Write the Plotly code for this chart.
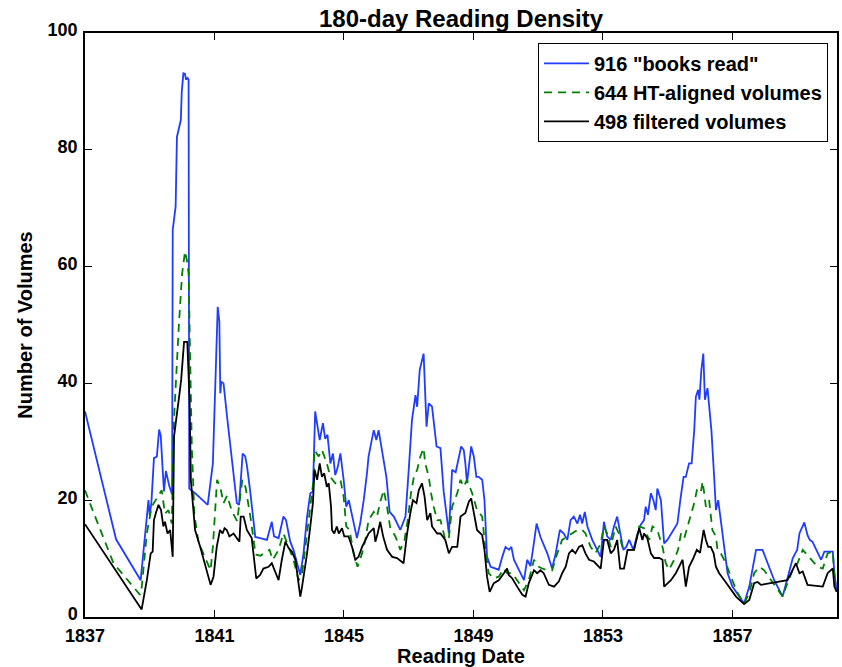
import plotly.graph_objects as go

# ---- data (decimal reading year, number of volumes in 180-day window) ----
books_x = [1837.00, 1837.96, 1838.72, 1838.96, 1839.00, 1839.05, 1839.13, 1839.22, 1839.29, 1839.34,
           1839.40, 1839.44, 1839.50, 1839.60, 1839.69, 1839.71, 1839.80, 1839.84, 1839.96, 1839.99,
           1840.04, 1840.09, 1840.12, 1840.17, 1840.20, 1840.22, 1840.40, 1840.79, 1840.95, 1841.02,
           1841.10, 1841.15, 1841.18, 1841.21, 1841.28, 1841.40, 1841.69, 1841.76, 1841.87, 1841.95,
           1842.00, 1842.10, 1842.26, 1842.41, 1842.62, 1842.77, 1842.84, 1842.98, 1843.13, 1843.21,
           1843.34, 1843.44, 1843.65, 1843.75, 1843.86, 1843.96, 1844.04, 1844.11, 1844.25, 1844.35,
           1844.42, 1844.49, 1844.58, 1844.66, 1844.73, 1844.80, 1844.89, 1844.99, 1845.07, 1845.15,
           1845.25, 1845.40, 1845.50, 1845.61, 1845.71, 1845.76, 1845.92, 1846.00, 1846.07, 1846.14,
           1846.23, 1846.31, 1846.41, 1846.54, 1846.74, 1846.90, 1847.00, 1847.10, 1847.21, 1847.26,
           1847.34, 1847.41, 1847.46, 1847.55, 1847.62, 1847.72, 1847.86, 1847.98, 1848.08, 1848.24,
           1848.34, 1848.45, 1848.55, 1848.62, 1848.70, 1848.75, 1848.80, 1848.93, 1849.01, 1849.09,
           1849.16, 1849.27, 1849.34, 1849.42, 1849.53, 1849.78, 1849.89, 1849.99, 1850.10, 1850.17,
           1850.25, 1850.45, 1850.56, 1850.66, 1850.76, 1850.85, 1850.95, 1851.07, 1851.28, 1851.43,
           1851.54, 1851.67, 1851.79, 1851.90, 1852.00, 1852.10, 1852.21, 1852.29, 1852.36, 1852.44,
           1852.52, 1852.67, 1852.82, 1852.93, 1853.03, 1853.13, 1853.24, 1853.34, 1853.44, 1853.53,
           1853.63, 1853.72, 1853.81, 1853.94, 1854.07, 1854.17, 1854.27, 1854.32, 1854.39, 1854.48,
           1854.56, 1854.63, 1854.68, 1854.79, 1854.89, 1854.99, 1855.20, 1855.30, 1855.39, 1855.49,
           1855.56, 1855.66, 1855.74, 1855.82, 1855.87, 1855.94, 1855.98, 1856.04, 1856.10, 1856.15,
           1856.23, 1856.28, 1856.35, 1856.44, 1856.49, 1856.56, 1856.64, 1856.75, 1856.85, 1857.00,
           1857.21, 1857.36, 1857.52, 1857.73, 1857.93, 1858.09, 1858.29, 1858.55, 1858.70, 1858.86,
           1858.94, 1859.00, 1859.07, 1859.22, 1859.32, 1859.39, 1859.47, 1859.74, 1859.84, 1860.10,
           1860.15, 1860.22]
books_y = [35.2, 13.3, 6.3, 20.0, 17.4, 19.5, 27.2, 27.5, 32.1, 31.0,
           25.2, 21.5, 25.0, 22.5, 21.0, 66.3, 70.3, 82.2, 85.1, 90.0,
           93.1, 93.0, 92.0, 92.3, 92.0, 22.0, 21.2, 19.2, 26.3, 40.0,
           53.1, 50.6, 38.3, 40.3, 40.0, 33.7, 19.5, 19.2, 28.0, 27.5,
           26.0, 21.7, 13.7, 13.5, 13.2, 16.3, 13.8, 13.5, 17.2, 16.6,
           12.9, 11.5, 7.2, 10.9, 17.2, 21.2, 21.5, 35.2, 30.3, 33.2,
           30.5, 31.2, 26.3, 28.0, 24.3, 25.5, 28.0, 23.5, 18.9, 20.0,
           17.2, 13.5, 16.0, 20.0, 24.6, 27.5, 32.0, 30.3, 32.0, 29.7,
           26.3, 24.0, 18.0, 17.2, 14.9, 17.2, 25.2, 33.7, 38.0, 36.0,
           42.3, 44.3, 45.1, 32.6, 36.6, 36.0, 29.2, 28.9, 21.5, 14.3,
           25.2, 24.8, 27.5, 29.2, 28.6, 26.3, 22.9, 29.2, 27.5, 24.0,
           24.0, 23.5, 20.0, 10.3, 8.6, 8.1, 10.3, 12.0, 11.5, 12.0,
           9.8, 7.5, 6.3, 9.8, 8.7, 12.0, 16.0, 13.7, 10.9, 8.3,
           10.9, 14.9, 14.3, 13.2, 16.6, 17.2, 16.0, 17.5, 16.0, 18.0,
           15.5, 13.2, 11.5, 10.3, 16.3, 13.8, 13.2, 15.5, 17.2, 14.3,
           11.5, 12.0, 13.2, 11.5, 14.3, 15.8, 16.6, 18.9, 17.5, 21.2,
           20.0, 18.3, 22.0, 20.0, 12.6, 13.2, 15.2, 16.0, 20.0, 24.0,
           24.0, 26.3, 26.3, 32.0, 37.7, 38.9, 37.2, 42.3, 45.1, 37.2,
           39.2, 36.3, 32.0, 23.5, 18.3, 20.0, 16.6, 12.6, 7.5, 5.2,
           3.5, 2.3, 5.2, 11.5, 11.5, 9.2, 6.3, 3.5, 6.9, 10.0,
           10.9, 11.5, 14.3, 16.2, 14.0, 13.2, 12.9, 9.8, 11.2, 11.2,
           7.5, 4.5]

ht_x = [1837.00, 1837.15, 1837.88, 1838.70, 1838.75, 1838.91, 1839.06, 1839.22, 1839.37, 1839.47,
        1839.58, 1839.68, 1839.75, 1839.90, 1840.00, 1840.09, 1840.15, 1840.20, 1840.26, 1840.30,
        1840.38, 1840.51, 1840.67, 1840.88, 1840.95, 1841.08, 1841.18, 1841.28, 1841.39, 1841.54,
        1841.70, 1841.86, 1841.96, 1842.12, 1842.27, 1842.42, 1842.52, 1842.70, 1842.80, 1842.98,
        1843.13, 1843.29, 1843.44, 1843.60, 1843.70, 1843.86, 1843.96, 1844.06, 1844.09, 1844.22,
        1844.32, 1844.47, 1844.58, 1844.73, 1844.89, 1844.99, 1845.07, 1845.17, 1845.30, 1845.42,
        1845.56, 1845.66, 1845.76, 1845.92, 1846.02, 1846.12, 1846.23, 1846.33, 1846.43, 1846.59,
        1846.74, 1846.87, 1846.97, 1847.07, 1847.16, 1847.26, 1847.36, 1847.46, 1847.51, 1847.62,
        1847.69, 1847.77, 1847.88, 1847.98, 1848.13, 1848.24, 1848.34, 1848.50, 1848.60, 1848.70,
        1848.80, 1848.96, 1849.11, 1849.27, 1849.37, 1849.47, 1849.63, 1849.78, 1849.94, 1850.04,
        1850.20, 1850.35, 1850.56, 1850.71, 1850.87, 1851.02, 1851.12, 1851.28, 1851.43, 1851.59,
        1851.74, 1851.90, 1852.05, 1852.21, 1852.36, 1852.46, 1852.62, 1852.77, 1852.93, 1853.03,
        1853.13, 1853.24, 1853.39, 1853.49, 1853.60, 1853.76, 1853.96, 1854.12, 1854.27, 1854.43,
        1854.53, 1854.68, 1854.84, 1854.94, 1855.04, 1855.20, 1855.32, 1855.41, 1855.51, 1855.61,
        1855.72, 1855.82, 1855.90, 1856.02, 1856.08, 1856.18, 1856.28, 1856.38, 1856.49, 1856.54,
        1856.64, 1856.80, 1856.95, 1857.16, 1857.36, 1857.52, 1857.67, 1857.83, 1857.98, 1858.19,
        1858.40, 1858.55, 1858.70, 1858.86, 1859.01, 1859.17, 1859.27, 1859.43, 1859.63, 1859.79,
        1859.94, 1860.10, 1860.15, 1860.22]
ht_y = [21.7, 19.5, 9.2, 3.8, 5.0, 14.3, 18.9, 20.3, 21.7, 17.7,
        18.3, 16.0, 34.0, 50.0, 58.8, 62.6, 61.0, 58.8, 41.2, 29.0,
        17.4, 12.7, 10.7, 8.0, 12.0, 23.5, 22.2, 19.5, 20.8, 18.1,
        16.4, 23.5, 22.2, 16.8, 10.7, 10.5, 10.9, 11.5, 9.8, 11.5,
        14.3, 12.0, 9.8, 6.3, 7.2, 14.3, 18.9, 23.5, 28.6, 27.5,
        28.6, 26.3, 24.0, 22.9, 23.5, 20.6, 15.5, 14.9, 10.9, 8.6,
        10.9, 13.2, 16.6, 18.0, 17.2, 19.7, 21.7, 18.9, 15.2, 13.8,
        11.5, 13.2, 16.6, 21.2, 24.0, 25.2, 27.5, 28.9, 26.3, 24.0,
        21.2, 18.9, 16.6, 16.6, 13.2, 13.5, 18.9, 21.2, 23.5, 22.3,
        23.5, 21.2, 18.3, 17.2, 11.5, 7.5, 6.6, 6.9, 8.3, 7.5,
        7.5, 6.3, 4.6, 6.3, 9.8, 8.6, 8.3, 8.0, 8.0, 10.9,
        13.2, 13.8, 14.3, 14.9, 14.9, 14.3, 12.0, 10.9, 12.6, 15.5,
        14.3, 12.0, 15.5, 14.3, 12.0, 11.5, 11.5, 15.5, 15.2, 13.2,
        15.5, 14.9, 12.0, 9.2, 8.1, 9.8, 11.5, 14.3, 13.5, 15.5,
        17.8, 19.5, 21.7, 21.2, 23.2, 18.9, 20.0, 14.9, 13.8, 11.5,
        10.9, 9.2, 6.9, 4.1, 2.3, 4.1, 7.5, 8.6, 8.0, 6.3,
        4.6, 3.5, 5.8, 8.0, 9.2, 11.5, 10.9, 9.8, 8.6, 8.3,
        10.9, 11.2, 7.0, 5.8]

filt_x = [1837.00, 1838.75, 1838.91, 1839.03, 1839.09, 1839.13, 1839.19, 1839.27, 1839.35, 1839.42,
          1839.47, 1839.55, 1839.63, 1839.71, 1839.75, 1839.84, 1839.92, 1839.97, 1840.06, 1840.16,
          1840.23, 1840.27, 1840.40, 1840.56, 1840.76, 1840.88, 1840.97, 1841.07, 1841.17, 1841.25,
          1841.31, 1841.38, 1841.46, 1841.59, 1841.69, 1841.77, 1841.81, 1841.90, 1842.00, 1842.15,
          1842.29, 1842.41, 1842.51, 1842.67, 1842.77, 1842.88, 1842.98, 1843.08, 1843.19, 1843.29,
          1843.39, 1843.50, 1843.65, 1843.70, 1843.86, 1843.96, 1844.04, 1844.09, 1844.17, 1844.25,
          1844.32, 1844.39, 1844.47, 1844.53, 1844.60, 1844.63, 1844.70, 1844.78, 1844.84, 1844.94,
          1845.01, 1845.14, 1845.25, 1845.35, 1845.45, 1845.56, 1845.66, 1845.76, 1845.92, 1845.97,
          1846.04, 1846.12, 1846.21, 1846.33, 1846.49, 1846.64, 1846.84, 1846.95, 1847.05, 1847.13,
          1847.24, 1847.31, 1847.41, 1847.49, 1847.57, 1847.67, 1847.72, 1847.88, 1847.98, 1848.13,
          1848.24, 1848.34, 1848.50, 1848.60, 1848.75, 1848.86, 1848.93, 1849.01, 1849.11, 1849.27,
          1849.34, 1849.42, 1849.50, 1849.63, 1849.78, 1849.94, 1850.04, 1850.09, 1850.20, 1850.35,
          1850.51, 1850.61, 1850.71, 1850.87, 1850.97, 1851.07, 1851.17, 1851.33, 1851.49, 1851.64,
          1851.74, 1851.85, 1851.95, 1852.05, 1852.15, 1852.26, 1852.36, 1852.46, 1852.57, 1852.72,
          1852.93, 1853.03, 1853.13, 1853.24, 1853.34, 1853.44, 1853.53, 1853.65, 1853.76, 1853.96,
          1854.12, 1854.22, 1854.27, 1854.37, 1854.48, 1854.58, 1854.74, 1854.84, 1854.89, 1855.10,
          1855.25, 1855.35, 1855.46, 1855.56, 1855.66, 1855.77, 1855.90, 1856.00, 1856.11, 1856.18,
          1856.25, 1856.33, 1856.42, 1856.49, 1856.59, 1856.75, 1856.90, 1857.11, 1857.36, 1857.52,
          1857.67, 1857.78, 1857.88, 1858.70, 1858.81, 1858.96, 1859.07, 1859.17, 1859.32, 1859.79,
          1859.94, 1860.10, 1860.15, 1860.22]
filt_y = [15.9, 1.3, 6.3, 10.9, 11.2, 16.6, 17.8, 19.2, 18.3, 15.5,
          16.3, 14.3, 14.9, 10.3, 30.9, 35.4, 38.3, 40.6, 47.1, 47.1,
          37.1, 23.5, 14.9, 12.0, 8.0, 5.5, 6.9, 12.0, 14.9, 14.3,
          15.2, 14.9, 13.8, 14.3, 13.5, 12.9, 17.2, 17.2, 14.9, 13.5,
          6.6, 7.2, 8.3, 8.6, 9.2, 7.8, 6.3, 9.8, 12.9, 11.8,
          11.2, 9.8, 3.5, 5.0, 10.9, 15.5, 19.5, 25.2, 23.5, 26.3,
          24.0, 24.6, 22.3, 22.9, 18.9, 14.9, 14.3, 15.5, 14.3, 15.2,
          13.8, 13.8, 12.0, 9.8, 10.3, 12.0, 13.2, 14.3, 15.2, 12.9,
          14.3, 16.3, 13.8, 11.5, 10.3, 10.1, 9.2, 14.3, 17.8, 20.0,
          19.5, 21.7, 22.9, 20.6, 16.6, 17.8, 15.5, 14.3, 14.3, 13.2,
          10.9, 12.0, 12.0, 17.2, 17.8, 19.8, 20.3, 17.8, 14.9, 14.0,
          11.5, 6.9, 4.3, 5.8, 6.3, 7.5, 8.3, 7.2, 6.6, 5.2,
          3.8, 3.5, 5.8, 8.0, 7.5, 8.0, 7.5, 5.5, 5.2, 6.1,
          7.5, 8.6, 10.9, 11.5, 10.9, 12.0, 12.3, 10.9, 9.8, 9.5,
          8.3, 13.2, 13.2, 10.9, 11.5, 13.2, 8.3, 8.3, 11.5, 11.5,
          15.2, 13.2, 14.3, 13.5, 10.9, 10.1, 10.1, 9.8, 5.2, 6.3,
          7.5, 8.6, 9.8, 5.2, 8.6, 9.8, 11.5, 11.0, 14.9, 13.2,
          12.0, 12.0, 10.9, 8.6, 7.5, 6.3, 5.2, 3.5, 2.2, 2.9,
          5.8, 6.0, 5.5, 6.3, 7.5, 9.2, 7.5, 7.8, 5.5, 5.2,
          7.5, 8.3, 5.2, 4.3]

tick_years = [1837, 1841, 1845, 1849, 1853, 1857]
tick_labels = ["1837", "1841", "1845", "1849", "1853", "1857"]
y_ticks = [0, 20, 40, 60, 80, 100]

FONT = "Liberation Sans, Arial, sans-serif"

fig = go.Figure()
fig.add_trace(go.Scatter(x=books_x, y=books_y, mode="lines", name='916 "books read"',
                         line=dict(color="#1f3cff", width=1.8)))
fig.add_trace(go.Scatter(x=ht_x, y=ht_y, mode="lines", name="644 HT-aligned volumes",
                         line=dict(color="#008000", width=1.8, dash="8px,6px")))
fig.add_trace(go.Scatter(x=filt_x, y=filt_y, mode="lines", name="498 filtered volumes",
                         line=dict(color="black", width=1.8)))

axis_common = dict(showgrid=False, zeroline=False, showline=True, linecolor="black", linewidth=1.5,
                   mirror="ticks", ticks="inside", ticklen=7, tickwidth=1, tickcolor="black",
                   automargin=False,
                   tickfont=dict(family=FONT, size=18, color="black", weight="bold"))

fig.update_layout(
    width=842, height=667,
    margin=dict(l=85, r=5, t=33, b=50),
    paper_bgcolor="white", plot_bgcolor="white",
    title=dict(text="180-day Reading Density", x=0.5, xref="paper", xanchor="center",
               y=1, yref="paper", yanchor="bottom", pad=dict(b=6),
               font=dict(family=FONT, size=24, color="black", weight="bold")),
    xaxis=dict(range=[1837, 1860.23], tickvals=tick_years, ticktext=tick_labels,
               ticklabelstandoff=2,
               title=dict(text="Reading Date", standoff=7,
                          font=dict(family=FONT, size=20, color="black", weight="bold")),
               **axis_common),
    yaxis=dict(range=[0, 100], tickvals=y_ticks, ticklabelstandoff=2, ticklabelshift=-3,
               title=dict(text="Number of Volumes", standoff=10,
                          font=dict(family=FONT, size=20, color="black", weight="bold")),
               **axis_common),
    legend=dict(x=0.988, y=0.983, xanchor="right", yanchor="top",
                bgcolor="white", bordercolor="black", borderwidth=1,
                font=dict(family=FONT, size=20, color="black", weight="bold"),
                itemwidth=45, tracegroupgap=0),
    showlegend=True,
)

fig.write_html("out.html")
